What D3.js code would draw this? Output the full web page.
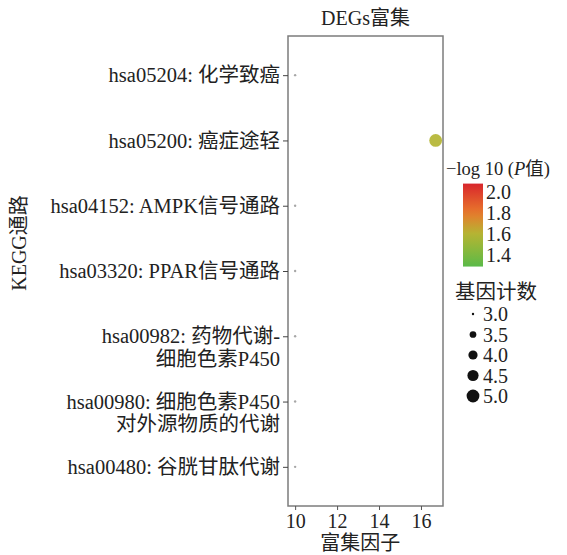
<!DOCTYPE html>
<html>
<head>
<meta charset="utf-8">
<script src="https://cdn.jsdelivr.net/npm/d3@7"></script>
<style>
  body { margin: 0; background: #fff; }
  text { font-family: "Liberation Serif", "Noto Sans CJK SC", serif; fill: #222; }
</style>
</head>
<body>
<div id="chart"></div>
<script>
// pathways, top to bottom
var pathways = [
    "hsa05204: 化学致癌",
    "hsa05200: 癌症途轻",
    "hsa04152: AMPK信号通路",
    "hsa03320: PPAR信号通路",
    "hsa00982: 药物代谢-\n细胞色素P450",
    "hsa00980: 细胞色素P450\n对外源物质的代谢",
    "hsa00480: 谷胱甘肽代谢"
];
var richFactor = [10, 16.7, 10, 10, 10, 10, 10];
var geneCount = [3, 5, 3, 3, 3, 3, 3];
var logP = [null, 1.6, null, null, null, null, null];

var xTicks = [10, 12, 14, 16];
var colorTicks = [2.0, 1.8, 1.6, 1.4];
var sizeTicks = [3.0, 3.5, 4.0, 4.5, 5.0];

var W = 567, H = 555;
var margin = {top: 36, right: 124, bottom: 49, left: 288};
var width = W - margin.left - margin.right;
var height = H - margin.top - margin.bottom;
var fs = "19.5px";

var svg = d3.select("#chart").append("svg")
    .attr("width", W)
    .attr("height", H);

var g = svg.append("g")
    .attr("transform", "translate(" + margin.left + "," + margin.top + ")");

var x = d3.scaleLinear().domain([9.66, 17.05]).range([0, width]);
var y = d3.scalePoint().domain(pathways).range([0, height]).padding(0.6);
var r = d3.scaleRadial().domain([3, 5]).range([1.2, 6.4]);
var color = d3.scaleLinear()
    .domain([1.3, 1.45, 1.6, 1.8, 2.08])
    .range(["#5dba48", "#8ab83c", "#b4b533", "#e8792c", "#d8262c"]);

var data = pathways.map(function (p, i) {
    return {path: p, rich: richFactor[i], count: geneCount[i], logp: logP[i]};
});

// panel
g.append("rect")
    .attr("width", width)
    .attr("height", height)
    .attr("fill", "#fff");

// points
g.selectAll("circle.pt")
    .data(data)
    .enter()
    .append("circle")
    .attr("class", "pt")
    .attr("cx", function (d) { return x(d.rich); })
    .attr("cy", function (d) { return y(d.path); })
    .attr("r", function (d) { return r(d.count); })
    .attr("fill", function (d) { return d.logp == null ? "#8a8a8a" : color(d.logp); })
    .attr("opacity", function (d) { return d.logp == null ? 0.75 : 0.92; });

g.append("rect")
    .attr("width", width)
    .attr("height", height)
    .attr("fill", "none")
    .attr("stroke", "#7c7c7c")
    .attr("stroke-width", 1.5);

// axes
var xAxis = g.append("g")
    .attr("transform", "translate(0," + height + ")")
    .call(d3.axisBottom(x).tickValues(xTicks).tickSize(4).tickPadding(4));
xAxis.select(".domain").remove();
xAxis.selectAll("line").attr("stroke", "#555");
xAxis.selectAll("text")
    .style("font-size", "20px")
    .style("font-family", "'Liberation Serif', serif")
    .attr("fill", "#222");

var yAxis = g.append("g")
    .call(d3.axisLeft(y).tickSize(5).tickPadding(3));
yAxis.select(".domain").remove();
yAxis.selectAll("line").attr("stroke", "#444");
yAxis.selectAll("text")
    .style("font-size", "20.5px")
    .attr("fill", "#222")
    .each(function (d) {
        var t = d3.select(this);
        var lines = d.split("\n");
        t.text(null);
        lines.forEach(function (ln, i) {
            t.append("tspan")
                .attr("x", -8)
                .attr("dy", i === 0 ? "0.32em" : "1.1em")
                .text(ln);
        });
        t.attr("dy", null);
    });

// titles
g.append("text")
    .attr("x", width / 2)
    .attr("y", -11)
    .attr("text-anchor", "middle")
    .style("font-size", "20px")
    .text("DEGs富集");

g.append("text")
    .attr("x", x(13.1))
    .attr("y", height + 44)
    .attr("text-anchor", "middle")
    .style("font-size", "20px")
    .text("富集因子");

svg.append("text")
    .attr("transform", "translate(26,243) rotate(-90)")
    .attr("text-anchor", "middle")
    .style("font-size", "20px")
    .text("KEGG通路");

// colour legend
var leg = svg.append("g").attr("transform", "translate(446,0)");
var legTitle = leg.append("text")
    .attr("x", 0)
    .attr("y", 175)
    .style("font-size", "18.5px");
legTitle.append("tspan").text("\u2212log 10 (");
legTitle.append("tspan").style("font-style", "italic").text("P");
legTitle.append("tspan").text("值)");

var cy = d3.scaleLinear().domain([2.0, 1.4]).range([192, 255]);
var defs = svg.append("defs");
var grad = defs.append("linearGradient")
    .attr("id", "pgrad")
    .attr("x1", 0).attr("y1", 1).attr("x2", 0).attr("y2", 0);
var cLo = 1.29, cHi = 2.08;
d3.range(0, 1.0001, 0.1).forEach(function (t) {
    grad.append("stop")
        .attr("offset", t)
        .attr("stop-color", color(cLo + t * (cHi - cLo)));
});
leg.append("rect")
    .attr("x", 17)
    .attr("y", cy(cHi))
    .attr("width", 20)
    .attr("height", cy(cLo) - cy(cHi))
    .attr("fill", "url(#pgrad)");
leg.selectAll("text.ct")
    .data(colorTicks)
    .enter()
    .append("text")
    .attr("class", "ct")
    .attr("x", 40)
    .attr("y", function (d) { return cy(d); })
    .attr("dy", "0.35em")
    .style("font-size", "20px")
    .text(function (d) { return d.toFixed(1); });

// size legend
leg.append("text")
    .attr("x", 9)
    .attr("y", 299)
    .style("font-size", "20.5px")
    .text("基因计数");
var sy = d3.scalePoint().domain(sizeTicks).range([314, 396]);
leg.selectAll("circle.st")
    .data(sizeTicks)
    .enter()
    .append("circle")
    .attr("class", "st")
    .attr("cx", 27)
    .attr("cy", function (d) { return sy(d); })
    .attr("r", function (d) { return r(d); })
    .attr("fill", "#111");
leg.selectAll("text.st")
    .data(sizeTicks)
    .enter()
    .append("text")
    .attr("class", "st")
    .attr("x", 37)
    .attr("y", function (d) { return sy(d); })
    .attr("dy", "0.35em")
    .style("font-size", "20px")
    .text(function (d) { return d.toFixed(1); });
</script>
</body>
</html>
